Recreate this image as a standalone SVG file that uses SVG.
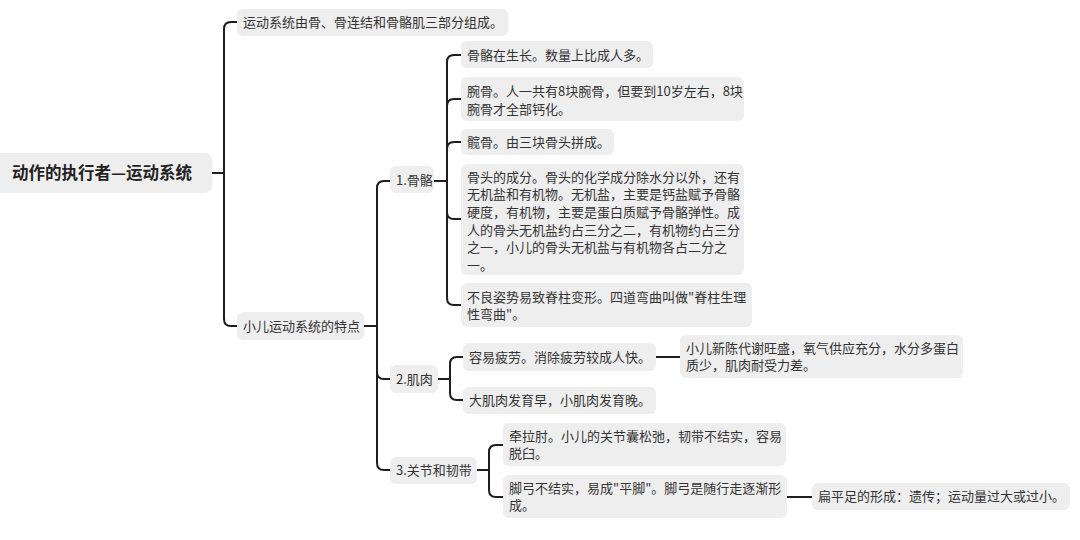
<svg xmlns="http://www.w3.org/2000/svg" width="1080" height="540" viewBox="0 0 1080 540">
<style>
.box{fill:#eeeeee;}
.t{font-family:"Noto Sans CJK SC","Noto Sans",sans-serif;font-size:13px;fill:#333333;}
.root{font-family:"Noto Sans CJK SC","Noto Sans",sans-serif;font-size:16.5px;font-weight:bold;fill:#222222;}
.c{fill:none;stroke:#1e1e1e;stroke-width:2;stroke-linecap:round;stroke-linejoin:round;}
</style>
<rect width="1080" height="540" fill="#ffffff"/>
<g id="connectors">
<path class="c" d="M212 173 H224"/>
<path class="c" d="M224 173 V29 Q224 22 231 22 H237"/>
<path class="c" d="M224 173 V319 Q224 326 231 326 H237"/>
<path class="c" d="M364 326 H377"/>
<path class="c" d="M377 326 V188 Q377 181 384 181 H390"/>
<path class="c" d="M377 326 V372 Q377 379 384 379 H390"/>
<path class="c" d="M377 326 V463 Q377 470 384 470 H390"/>
<path class="c" d="M434 181 H447"/>
<path class="c" d="M447 181 V62 Q447 55 454 55 H461"/>
<path class="c" d="M447 181 V106 Q447 99 454 99 H461"/>
<path class="c" d="M447 181 V149 Q447 142 454 142 H461"/>
<path class="c" d="M447 181 V212 Q447 219 454 219 H461"/>
<path class="c" d="M447 181 V298 Q447 305 454 305 H461"/>
<path class="c" d="M438 379 H450"/>
<path class="c" d="M450 379 V364 Q450 357 457 357 H463"/>
<path class="c" d="M450 379 V393 Q450 400 457 400 H463"/>
<path class="c" d="M656 357 H680"/>
<path class="c" d="M477 470 H489"/>
<path class="c" d="M489 470 V452 Q489 445 496 445 H503"/>
<path class="c" d="M489 470 V490 Q489 497 496 497 H503"/>
<path class="c" d="M787 497 H812"/>
</g>
<g id="n-root">
<rect class="box" x="-6" y="153" width="218" height="40" rx="7"/>
<text class="root" x="12" y="179">动作的执行者—运动系统</text>
</g>
<g id="n-composition">
<rect class="box" x="237" y="9" width="271" height="27" rx="6"/>
<text class="t" x="243" y="27">运动系统由骨、骨连结和骨骼肌三部分组成。</text>
</g>
<g id="n-child-features">
<rect class="box" x="237" y="312" width="127" height="28" rx="6"/>
<text class="t" x="243" y="331">小儿运动系统的特点</text>
</g>
<g id="n-bone">
<rect class="box" x="390" y="166" width="44" height="27" rx="6"/>
<text class="t" x="396" y="185">1.骨骼</text>
</g>
<g id="n-muscle">
<rect class="box" x="390" y="365" width="48" height="28" rx="6"/>
<text class="t" x="396" y="384">2.肌肉</text>
</g>
<g id="n-joint">
<rect class="box" x="390" y="457" width="87" height="27" rx="6"/>
<text class="t" x="396" y="475">3.关节和韧带</text>
</g>
<g id="n-bone-1">
<rect class="box" x="461" y="41" width="192" height="27" rx="6"/>
<text class="t" x="467" y="59.5">骨骼在生长。数量上比成人多。</text>
</g>
<g id="n-bone-2">
<rect class="box" x="461" y="77" width="283" height="44" rx="6"/>
<text class="t" x="467" y="96">腕骨。人一共有8块腕骨，但要到10岁左右，8块<tspan x="467" y="113.5">腕骨才全部钙化。</tspan></text>
</g>
<g id="n-bone-3">
<rect class="box" x="461" y="129" width="153" height="26" rx="6"/>
<text class="t" x="467" y="146.5">髋骨。由三块骨头拼成。</text>
</g>
<g id="n-bone-4">
<rect class="box" x="461" y="164" width="283" height="111" rx="6"/>
<text class="t" x="467" y="181.5">骨头的成分。骨头的化学成分除水分以外，还有<tspan x="467" y="199.2">无机盐和有机物。无机盐，主要是钙盐赋予骨骼</tspan><tspan x="467" y="216.9">硬度，有机物，主要是蛋白质赋予骨骼弹性。成</tspan><tspan x="467" y="234.6">人的骨头无机盐约占三分之二，有机物约占三分</tspan><tspan x="467" y="252.3">之一，小儿的骨头无机盐与有机物各占二分之</tspan><tspan x="467" y="270">一。</tspan></text>
</g>
<g id="n-bone-5">
<rect class="box" x="461" y="283" width="291" height="44" rx="6"/>
<text class="t" x="467" y="301.5">不良姿势易致脊柱变形。四道弯曲叫做"脊柱生理<tspan x="467" y="319">性弯曲"。</tspan></text>
</g>
<g id="n-muscle-1">
<rect class="box" x="463" y="343" width="193" height="28" rx="6"/>
<text class="t" x="469" y="361.5">容易疲劳。消除疲劳较成人快。</text>
</g>
<g id="n-muscle-1a">
<rect class="box" x="680" y="335" width="283" height="43" rx="6"/>
<text class="t" x="686" y="352.5">小儿新陈代谢旺盛，氧气供应充分，水分多蛋白<tspan x="686" y="370">质少，肌肉耐受力差。</tspan></text>
</g>
<g id="n-muscle-2">
<rect class="box" x="463" y="387" width="193" height="27" rx="6"/>
<text class="t" x="469" y="405">大肌肉发育早，小肌肉发育晚。</text>
</g>
<g id="n-joint-1">
<rect class="box" x="503" y="423" width="283" height="43" rx="6"/>
<text class="t" x="509" y="440.5">牵拉肘。小儿的关节囊松弛，韧带不结实，容易<tspan x="509" y="458">脱臼。</tspan></text>
</g>
<g id="n-joint-2">
<rect class="box" x="503" y="475" width="284" height="43" rx="6"/>
<text class="t" x="509" y="492.5">脚弓不结实，易成"平脚"。脚弓是随行走逐渐形<tspan x="509" y="510">成。</tspan></text>
</g>
<g id="n-joint-2a">
<rect class="box" x="812" y="483" width="258" height="27" rx="6"/>
<text class="t" x="818" y="501">扁平足的形成：遗传；运动量过大或过小。</text>
</g>
</svg>
